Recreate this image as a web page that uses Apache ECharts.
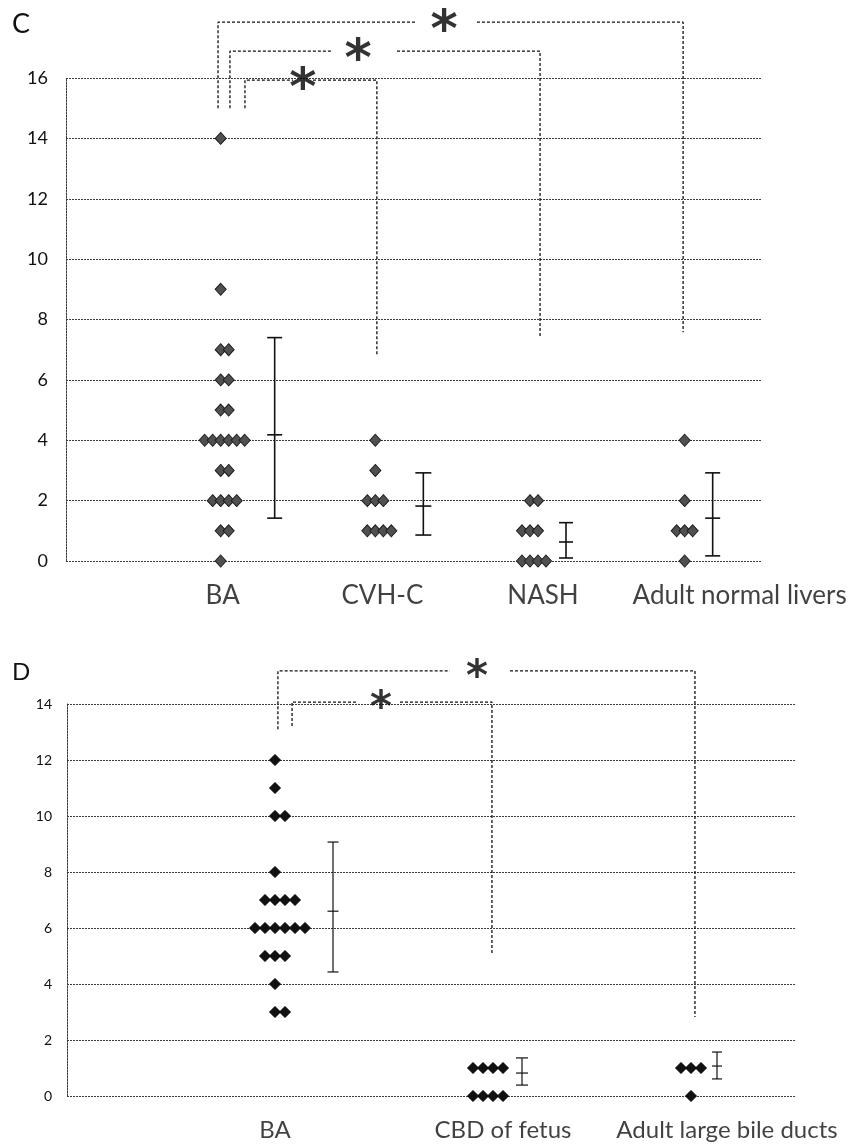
<!DOCTYPE html>
<html><head><meta charset="utf-8">
<script src="https://cdn.jsdelivr.net/npm/echarts@6/dist/echarts.min.js"></script>
<style>html,body{margin:0;padding:0;background:#fff}#chart{width:863px;height:1144px}</style>
</head><body><div id="chart"></div>
<script>
// ================= DATA =================
// Panel C
const cGroups = ['BA', 'CVH-C', 'NASH', 'Adult normal livers'];
const cBA    = [14, 9, 7, 7, 6, 6, 5, 5, 4, 4, 4, 4, 4, 4, 3, 3, 2, 2, 2, 2, 1, 1, 0];
const cCVHC  = [4, 3, 2, 2, 2, 1, 1, 1, 1];
const cNASH  = [2, 2, 1, 1, 1, 0, 0, 0, 0];
const cAdult = [4, 2, 1, 1, 1, 0];
const cMean  = [4.18, 1.82, 0.63, 1.42];
const cLow   = [1.42, 0.86, 0.10, 0.17];
const cHigh  = [7.40, 2.92, 1.27, 2.92];
const cYTicks = [0, 2, 4, 6, 8, 10, 12, 14, 16];

// Panel D
const dGroups = ['BA', 'CBD of fetus', 'Adult large bile ducts'];
const dBA    = [12, 11, 10, 10, 8, 7, 7, 7, 7, 6, 6, 6, 6, 6, 6, 5, 5, 5, 4, 3, 3];
const dCBD   = [1, 1, 1, 1, 0, 0, 0, 0];
const dAdult = [1, 1, 1, 0];
const dMean  = [6.60, 0.82, 1.07];
const dLow   = [4.43, 0.39, 0.61];
const dHigh  = [9.07, 1.36, 1.57];
const dYTicks = [0, 2, 4, 6, 8, 10, 12, 14];

// Significance brackets (annotation geometry in axis units)
const cBrackets = [
  {from: 0.983, to: 3.99, top: 17.85, leftEnd: 15.0, rightEnd: 7.58, star: 2.444, gap: [2.256, 2.657]},
  {from: 1.06,  to: 3.065, top: 16.89, leftEnd: 15.0, rightEnd: 7.42, star: 1.888, gap: [1.726, 2.14]},
  {from: 1.157, to: 2.01, top: 15.93, leftEnd: 15.0, rightEnd: 6.79, star: 1.532, gap: [1.468, 1.597]}
];
const dBrackets = [
  {from: 1.014, to: 3.019, top: 15.18, leftEnd: 13.1, rightEnd: 2.82, star: 1.971, gap: [1.841, 2.13]},
  {from: 1.082, to: 2.043, top: 14.07, leftEnd: 13.21, rightEnd: 5.04, star: 1.51, gap: [1.399, 1.601]}
];

// ================= LAYOUT =================
const cErrOffset = [54, 48, 36, 28];      // px right of dots
const cCapW = [15, 16, 14, 15];
const dErrOffset = [58, 39, 26];
const dCapW = [11, 12, 10];
const cLabelDx = [2, 7, 13, 55];
const dLabelDx = [0, 20, 36];
const FONT = 'Lato, "Open Sans", sans-serif';

function dotData(values, cat, step) {
  const counts = {}, seen = {};
  values.forEach(v => counts[v] = (counts[v] || 0) + 1);
  return values.map(v => {
    seen[v] = seen[v] === undefined ? 0 : seen[v] + 1;
    const k = seen[v], n = counts[v];
    return {value: [cat, v], symbolOffset: [(k - Math.floor((n - 1) / 2)) * step, 0]};
  });
}

function dotSeries(idx, groups, step, size, fill, border) {
  return {
    type: 'scatter', xAxisIndex: idx, yAxisIndex: idx, symbol: 'diamond',
    symbolSize: size, silent: true, z: 4, animation: false,
    itemStyle: {color: fill, borderColor: border, borderWidth: 1, opacity: 1},
    data: groups.flatMap((vals, i) => dotData(vals, i + 1, step))
  };
}

function errSeries(idx, means, lows, highs, offs, caps, lw) {
  return {
    type: 'custom', xAxisIndex: idx, yAxisIndex: idx, silent: true, z: 3, animation: false,
    encode: {x: 0, y: [1, 2, 3]},
    data: means.map((m, i) => [i + 1, lows[i], m, highs[i]]),
    renderItem(params, api) {
      const i = params.dataIndex;
      const lo = api.coord([api.value(0), api.value(1)]);
      const mu = api.coord([api.value(0), api.value(2)]);
      const hi = api.coord([api.value(0), api.value(3)]);
      const x = lo[0] + offs[i], h = caps[i] / 2;
      const style = {stroke: '#111', lineWidth: lw};
      return {type: 'group', children: [
        {type: 'line', shape: {x1: x, y1: lo[1], x2: x, y2: hi[1]}, style},
        {type: 'line', shape: {x1: x - h, y1: lo[1], x2: x + h, y2: lo[1]}, style},
        {type: 'line', shape: {x1: x - h, y1: hi[1], x2: x + h, y2: hi[1]}, style},
        {type: 'line', shape: {x1: x - h, y1: mu[1], x2: x + h, y2: mu[1]}, style}
      ]};
    }
  };
}

function bracketSeries(idx, brackets) {
  const out = [];
  const ls = {color: '#111', width: 1.3, type: [3, 2]};
  brackets.forEach(b => {
    out.push({type: 'line', xAxisIndex: idx, yAxisIndex: idx, clip: false, symbol: 'none', silent: true,
      animation: false, z: 2, lineStyle: ls,
      data: [[b.from, b.leftEnd], [b.from, b.top], [b.gap[0], b.top]]});
    out.push({type: 'line', xAxisIndex: idx, yAxisIndex: idx, clip: false, symbol: 'none', silent: true,
      animation: false, z: 2, lineStyle: ls,
      data: [[b.gap[1], b.top], [b.to, b.top], [b.to, b.rightEnd]]});
  });
  return out;
}

function starSeries(idx, brackets, fs, dy) {
  return {
    type: 'scatter', xAxisIndex: idx, yAxisIndex: idx, clip: false, symbolSize: 0, silent: true,
    animation: false, z: 5,
    data: brackets.map(b => [b.star, b.top]),
    label: {show: true, formatter: '*', position: 'inside', offset: [0, dy],
      fontFamily: 'DejaVu Sans', fontWeight: 'bold', fontSize: fs, color: '#000'}
  };
}

function catLabelSeries(idx, groups, dxs, dy, fs) {
  return {
    type: 'scatter', xAxisIndex: idx, yAxisIndex: idx, symbolSize: 0, silent: true,
    animation: false, z: 5,
    data: groups.map((g, i) => ({value: [i + 1, 0], name: g,
      label: {offset: [dxs[i], dy]}})),
    label: {show: true, formatter: p => p.name, position: 'inside',
      fontFamily: FONT, fontSize: fs, color: '#111'}
  };
}

const gridLine = {show: true, lineStyle: {color: '#3a3a3a', width: 1, type: [2, 1]}};

function yAxisCfg(idx, ticks, fs, margin) {
  return {
    type: 'value', gridIndex: idx, min: ticks[0], max: ticks[ticks.length - 1],
    interval: ticks[1] - ticks[0],
    axisLine: {show: true, lineStyle: {color: '#3a3a3a', width: 1, type: [2, 1]}},
    axisTick: {show: false},
    splitLine: gridLine,
    axisLabel: {fontFamily: FONT, fontSize: fs, color: '#111', margin: margin}
  };
}

const chart = echarts.init(document.getElementById('chart'), null, {renderer: 'canvas'});
chart.setOption({
  animation: false,
  backgroundColor: '#fff',
  grid: [
    {left: 66, right: 101, top: 78, bottom: 583},
    {left: 67, right: 68, top: 704, bottom: 48}
  ],
  xAxis: [
    {type: 'value', gridIndex: 0, min: 0, max: cGroups.length + 0.5, show: false},
    {type: 'value', gridIndex: 1, min: 0, max: dGroups.length + 0.5, show: false}
  ],
  yAxis: [yAxisCfg(0, cYTicks, 18, 18), yAxisCfg(1, dYTicks, 14, 15)],
  graphic: [
    {type: 'text', left: 12, top: 11, style: {text: 'C', fontFamily: FONT, fontSize: 27, fill: '#111'}},
    {type: 'text', left: 12, top: 660, style: {text: 'D', fontFamily: FONT, fontSize: 24, fill: '#111'}}
  ],
  series: [
    ...bracketSeries(0, cBrackets),
    ...bracketSeries(1, dBrackets),
    dotSeries(0, [cBA, cCVHC, cNASH, cAdult], 8, [11, 12], '#505050', '#1e1e1e'),
    dotSeries(1, [dBA, dCBD, dAdult], 10, 11, '#111', '#000'),
    errSeries(0, cMean, cLow, cHigh, cErrOffset, cCapW, 1.6),
    errSeries(1, dMean, dLow, dHigh, dErrOffset, dCapW, 1.2),
    starSeries(0, cBrackets, 52, 10),
    starSeries(1, dBrackets, 42, 8),
    catLabelSeries(0, cGroups, cLabelDx, 35, 26),
    catLabelSeries(1, dGroups, dLabelDx, 34, 24)
  ]
});
</script>
</body></html>
